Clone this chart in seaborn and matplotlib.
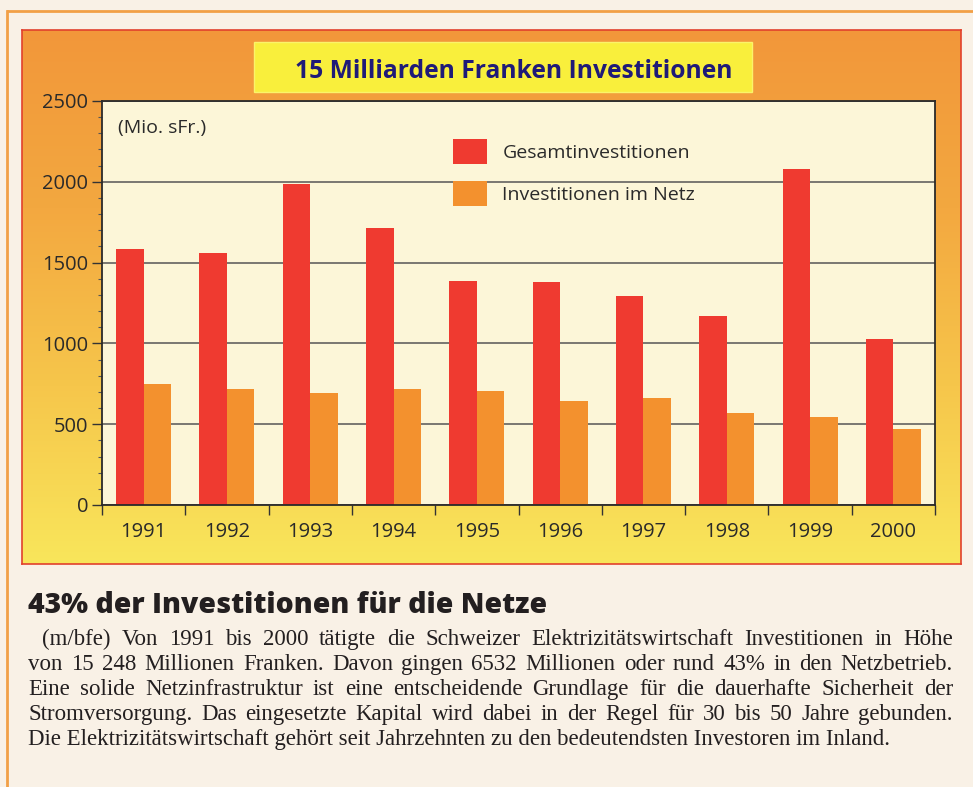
import numpy as np
import pandas as pd
import matplotlib.pyplot as plt
import seaborn as sns
from matplotlib.patches import Rectangle
from matplotlib.lines import Line2D
from matplotlib.colors import LinearSegmentedColormap
from matplotlib.ticker import MultipleLocator, FixedLocator

# Daten (Mio. sFr.)
jahre = ['1991', '1992', '1993', '1994', '1995', '1996', '1997', '1998', '1999', '2000']
gesamt = [1585, 1560, 1985, 1715, 1385, 1380, 1295, 1170, 2080, 1030]
netz = [750, 720, 690, 715, 705, 645, 660, 570, 545, 470]
reihen = ['Gesamtinvestitionen', 'Investitionen im Netz']
farben = ['#ef3a30', '#f3912e']

titel = '15 Milliarden Franken Investitionen'
einheit = '(Mio. sFr.)'
ueberschrift = '43% der Investitionen für die Netze'
absatz = [
    '(m/bfe) Von 1991 bis 2000 tätigte die Schweizer Elektrizitätswirtschaft Investitionen in Höhe',
    'von 15 248 Millionen Franken. Davon gingen 6532 Millionen oder rund 43% in den Netzbetrieb.',
    'Eine solide Netzinfrastruktur ist eine entscheidende Grundlage für die dauerhafte Sicherheit der',
    'Stromversorgung. Das eingesetzte Kapital wird dabei in der Regel für 30 bis 50 Jahre gebunden.',
    'Die Elektrizitätswirtschaft gehört seit Jahrzehnten zu den bedeutendsten Investoren im Inland.',
]

df = pd.DataFrame({
    'Jahr': jahre * 2,
    'Wert': gesamt + netz,
    'Reihe': [reihen[0]] * len(jahre) + [reihen[1]] * len(jahre),
})

plt.rcParams['font.family'] = ['Open Sans', 'DejaVu Sans']

W, H = 973, 787
fig = plt.figure(figsize=(W / 100, H / 100), dpi=100)
fig.patch.set_facecolor('#f9f1e6')


def box(x0, y0, x1, y1):
    # Pixel (oben links) -> Figure-Koordinaten
    return [x0 / W, 1 - y1 / H, (x1 - x0) / W, (y1 - y0) / H]


# äusserer Rahmen
fig.add_artist(Line2D([8 / W, 1], [1 - 11 / H] * 2, color='#f2a046', lw=2))
fig.add_artist(Line2D([7 / W] * 2, [0, 1 - 11 / H], color='#f2a046', lw=2))

# Hintergrund mit Verlauf orange -> gelb
bg = fig.add_axes(box(22, 30, 961, 564))
verlauf = LinearSegmentedColormap.from_list('v', ['#f2973a', '#f3a840', '#f6c64b', '#f9e65b'])
bg.imshow(np.linspace(0, 1, 256)[:, None], aspect='auto', cmap=verlauf, extent=[0, 1, 0, 1])
bg.set_xticks([])
bg.set_yticks([])
for s in bg.spines.values():
    s.set_color('#e2412c')
    s.set_linewidth(1.2)

# Titelbox
fig.add_artist(Rectangle((254 / W, 1 - 92 / H), (752 - 254) / W, 50 / H,
                         transform=fig.transFigure, facecolor='#f9ef3c',
                         edgecolor='#fbf36a', lw=1, zorder=1))
fig.text(514 / W, 1 - 78 / H, titel, ha='center', va='baseline',
         fontsize=17.7, fontweight='bold', color='#1f1a78', zorder=3)

# Diagramm
ax = fig.add_axes(box(102, 101, 935, 505))
ax.set_zorder(2)
ax.set_facecolor('#fcf6d8')
sns.barplot(data=df, x='Jahr', y='Wert', hue='Reihe', palette=farben,
            width=0.66, saturation=1, linewidth=0, ax=ax)
ax.set_xlim(-0.5, 9.5)
ax.set_ylim(0, 2500)
ax.set_xlabel('')
ax.set_ylabel('')

ax.set_yticks([0, 500, 1000, 1500, 2000, 2500])
ax.yaxis.set_minor_locator(MultipleLocator(100))
ax.xaxis.set_minor_locator(FixedLocator(np.arange(-0.5, 10, 1)))
ax.grid(axis='y', which='major', color='#555555', lw=1.1)
ax.set_axisbelow(True)
ax.tick_params(axis='y', which='major', length=7, width=1, pad=3,
               labelsize=14.5, labelcolor='#2a2a2a', color='#333333')
ax.tick_params(axis='y', which='minor', length=3, width=0.8, color='#555555')
ax.tick_params(axis='x', which='major', length=0, pad=12,
               labelsize=14.5, labelcolor='#2a2a2a')
ax.tick_params(axis='x', which='minor', length=7, width=1, color='#333333')
for s in ax.spines.values():
    s.set_color('#2a2a2a')
    s.set_linewidth(1.3)

ax.text(0.019, 0.933, einheit, transform=ax.transAxes, ha='left', va='center',
        fontsize=14, color='#2a2a2a')

ax.legend(title=None, frameon=False, loc='upper left',
          bbox_to_anchor=(0.421, 0.905), handlelength=1.75, handleheight=1.6,
          labelspacing=0.85, handletextpad=0.8, borderpad=0, borderaxespad=0,
          fontsize=14, labelcolor='#2a2a2a')

# Text unter dem Diagramm
fig.text(28 / W, 1 - 613 / H, ueberschrift, ha='left', va='baseline',
         fontsize=20.4, fontweight=800, color='#231f20')

renderer = fig.canvas.get_renderer()
rechts = 953
basis = [645, 670, 695, 720, 745]
for i, zeile in enumerate(absatz):
    links = 42 if i == 0 else 28
    y = 1 - basis[i] / H
    stil = dict(fontsize=16.5, color='#231f20', family='Liberation Serif',
                ha='left', va='baseline')
    if i == len(absatz) - 1:
        fig.text(links / W, y, zeile, **stil)
        continue
    # Blocksatz: Wörter einzeln setzen
    woerter = zeile.split(' ')
    breiten = []
    for w in woerter:
        t = fig.text(0, 0, w, **stil)
        breiten.append(t.get_window_extent(renderer).width)
        t.remove()
    luecke = (rechts - links - sum(breiten)) / (len(woerter) - 1)
    x = links
    for w, b in zip(woerter, breiten):
        fig.text(x / W, y, w, **stil)
        x += b + luecke

fig.savefig('out.png', dpi=100, facecolor=fig.get_facecolor())
